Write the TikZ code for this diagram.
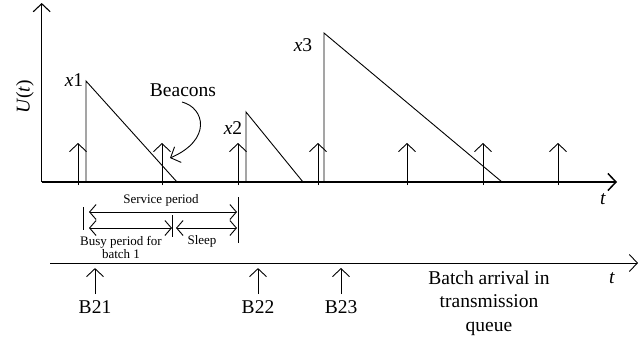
\documentclass[tikz,border=0pt]{standalone}
\usepackage{fontspec}
\setmainfont{Liberation Serif}
\usetikzlibrary{arrows.meta}
\tikzset{
  barb/.style={-{Straight Barb[length=8pt,width=17pt]}},
  dbarb/.style={{Straight Barb[length=6.5pt,width=15pt]}-{Straight Barb[length=6.5pt,width=15pt]}},
  biglbl/.style={font=\fontsize{19.5}{23.5}\selectfont,inner sep=0pt},
  smalllbl/.style={font=\fontsize{13}{10}\selectfont,inner sep=0pt},
}

\begin{document}
\begin{tikzpicture}[x=1pt,y=-1pt,line width=0.9pt]
  \useasboundingbox (0,0) rectangle (643,341);
  % queue length axes
  \coordinate (orig) at (41.7,182);
  \coordinate (ytop) at (41.7,3);
  \coordinate (xend) at (617,182);
  \draw[barb,line width=1.1pt] (orig) -- (ytop);
  \draw[barb,line width=1.5pt] (orig) -- (xend);
  \node[biglbl,rotate=90] (ulab) at (25,97) {\textit{U}(\textit{t})};
  \node[biglbl] (tup) at (603,199) {\textit{t}};
  % beacon arrows
  \foreach \x in {78,162,238,318,407,483,558}
    \draw[barb] (\x,185) -- (\x,143);
  % batches served
  \foreach \n/\a/\top/\b/\lx/\ly in {1/86/81/177/74/80, 2/246/112/303/233/128, 3/324/33/502/303/45}{
    \coordinate (foot\n) at (\a,182);
    \coordinate (peak\n) at (\a,\top);
    \coordinate (end\n) at (\b,182);
    \draw (foot\n) -- (peak\n) -- (end\n);
    \node[biglbl] (xlab\n) at (\lx,\ly) {\textit{x}\n};
  }
  \node[biglbl] (beacons) at (183,90) {Beacons};
  \coordinate (beacontip) at (170,158);
  \draw[barb] (182,102) .. controls (205,108) and (212,140) .. (beacontip);
  % periods
  \coordinate (sbeg) at (89,212);
  \coordinate (send) at (237,212);
  \coordinate (bbeg) at (89,228);
  \coordinate (bend) at (172,228);
  \coordinate (slbeg) at (176,228);
  \coordinate (slend) at (237,228);
  \draw[dbarb] (sbeg) -- (send);
  \draw[dbarb] (bbeg) -- (bend);
  \draw[dbarb] (slbeg) -- (slend);
  \draw (83,207) -- (83,230);
  \draw (172,215) -- (172,237);
  \draw (238,197) -- (238,243);
  \node[smalllbl] (service) at (161,200) {Service period};
  \node[smalllbl,align=center,anchor=north] (busy) at (121,236) {Busy period for\\batch 1};
  \node[smalllbl] (sleep) at (202,241) {Sleep};
  % batch arrivals
  \coordinate (qbeg) at (50,263);
  \coordinate (qend) at (638,263);
  \draw[barb] (qbeg) -- (qend);
  \node[biglbl] (tdown) at (612,278) {\textit{t}};
  \foreach \x/\name in {95/B21,258/B22,341/B23}{
    \node[biglbl] (\name) at (\x,307) {\name};
    \draw[barb] (\name.north) ++(0,-6) -- ++(0,-26);
  }
  \node[biglbl,align=center] (arrival) at (489,303) {Batch arrival in\\transmission\\queue};
\end{tikzpicture}
\end{document}
